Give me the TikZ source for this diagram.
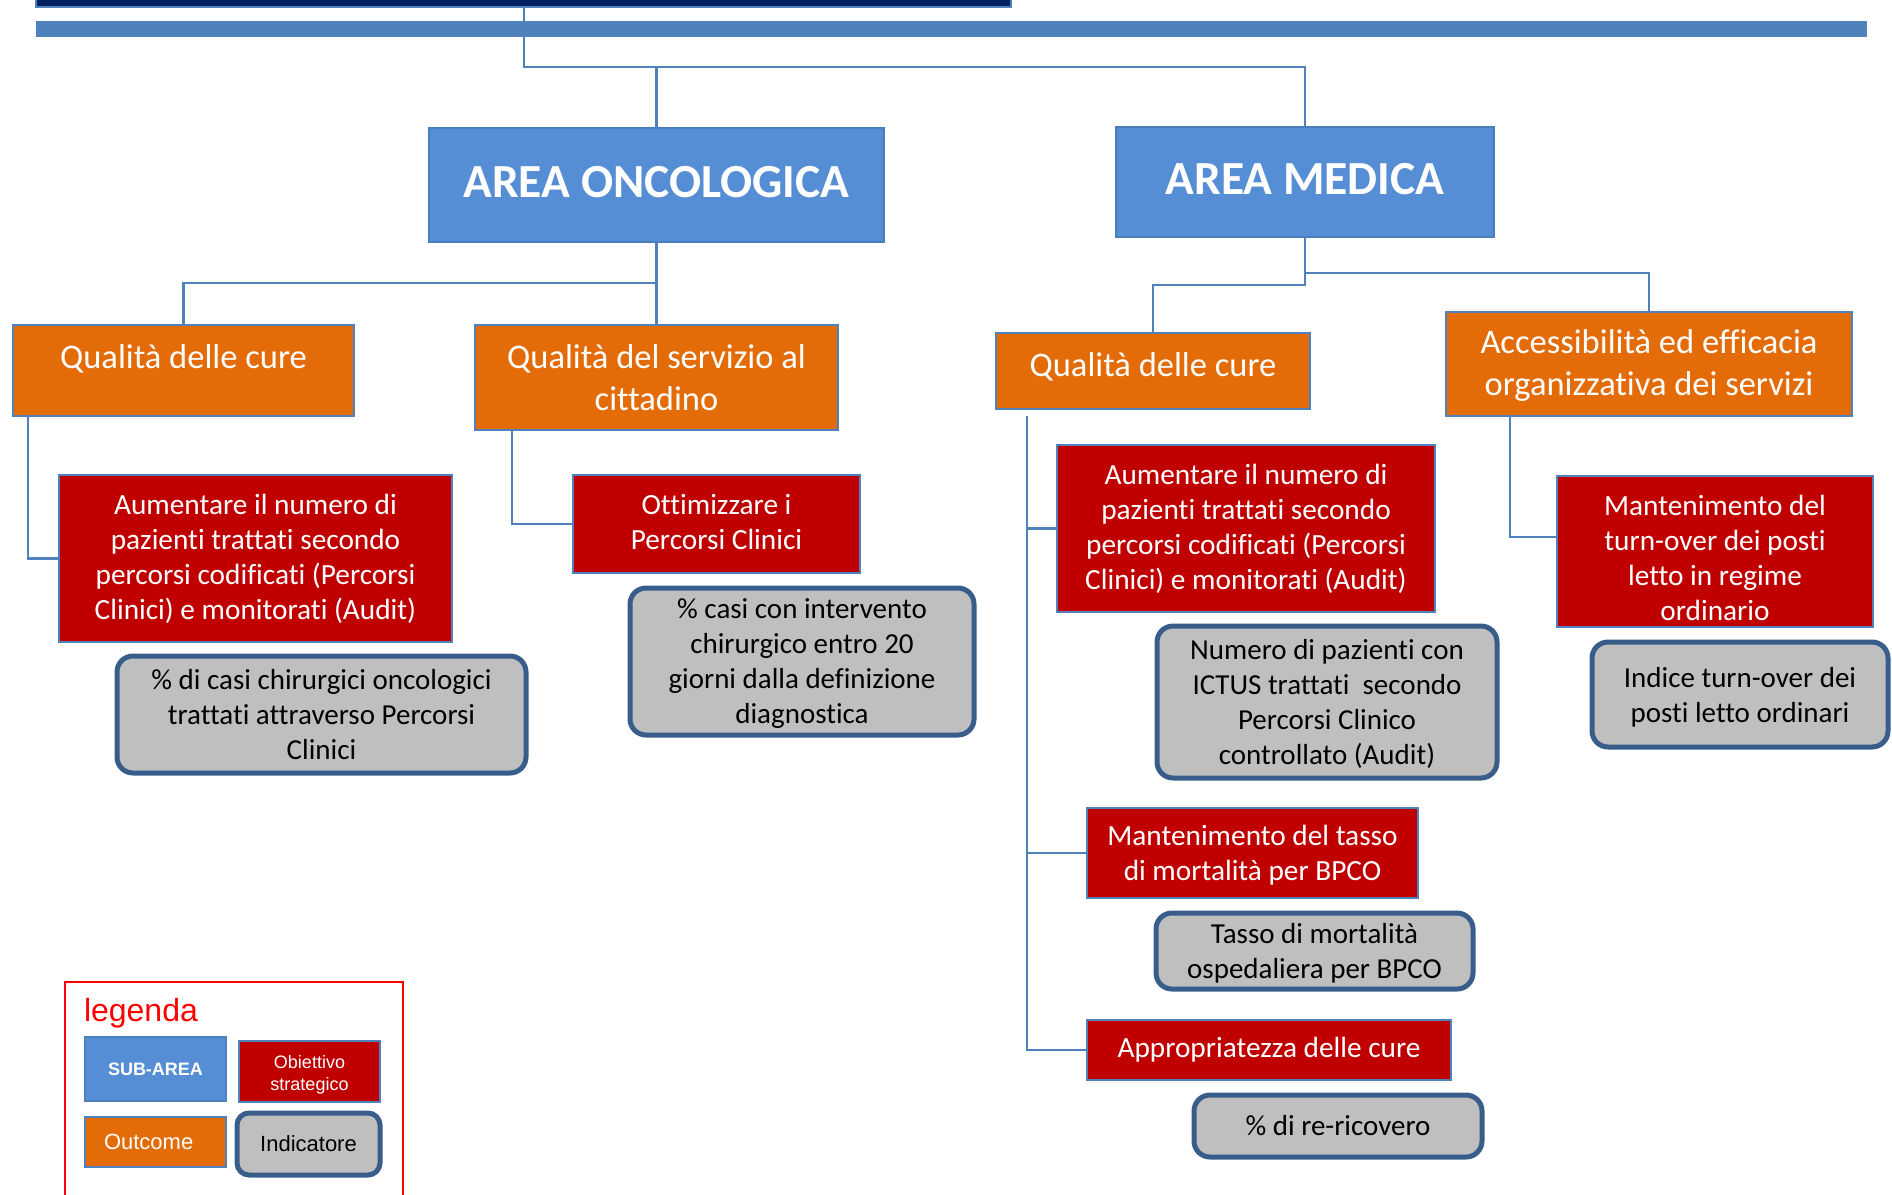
\documentclass[tikz,border=0pt]{standalone}
\usepackage{fontspec}
\setmainfont{Carlito}[Ligatures=CommonOff]
\newfontfamily\legendfont{Liberation Sans}

\definecolor{lineblue}{HTML}{4F81BD}
\definecolor{navy}{HTML}{002060}
\definecolor{areafill}{HTML}{558ED5}
\definecolor{areaedge}{HTML}{4A7EBB}
\definecolor{outfill}{HTML}{E36C09}
\definecolor{objfill}{HTML}{C00000}
\definecolor{indfill}{HTML}{BFBFBF}
\definecolor{indedge}{HTML}{385D8A}

\tikzset{
  conn/.style={draw=lineblue, line width=2.5pt},
  anybox/.style={inner sep=0pt, outer sep=0pt, align=center},
  areabox/.style={anybox, fill=areafill, draw=areaedge, line width=2.5pt, text=white,
    font=\bfseries\fontsize{47.5}{54}\selectfont},
  outbox/.style={anybox, fill=outfill, draw=lineblue, line width=2.5pt, text=white,
    font=\fontsize{34.5}{42}\selectfont},
  objbox/.style={anybox, fill=objfill, draw=lineblue, line width=2.5pt, text=white,
    font=\fontsize{29.3}{35}\selectfont},
  indbox/.style={anybox, fill=indfill, draw=indedge, line width=5pt, rounded corners=16pt,
    text=black, font=\fontsize{29}{35}\selectfont},
  legsmall/.style={anybox, font=\legendfont\fontsize{18}{22}\selectfont},
  leglarge/.style={anybox, font=\legendfont\fontsize{22}{26}\selectfont},
  bare/.style={draw=none, fill=none, minimum width=0pt, minimum height=0pt},
}

% \placebox[dy]{style}{name}{x1}{y1}{x2}{y2}{text}:
% box from top-left (x1,y1) to bottom-right (x2,y2), text centred and moved down by dy
\newcommand\placebox[8][0]{%
  \node[#2, anchor=north west, minimum width={(#6-#4)*1pt},
        minimum height={(#7-#5)*1pt}] (#3) at (#4,#5) {};
  \node[#2, bare, yshift={-(#1)*1pt}] (#3t) at (#3.center) {#8};}

\begin{document}
\begin{tikzpicture}[x=1pt,y=-1pt]
\useasboundingbox (0,0) rectangle (1892,1194);
\clip (0,0) rectangle (1892,1194);

% header bars
\node[anybox, fill=navy, draw=lineblue, line width=2pt, anchor=north west,
      minimum width=975pt, minimum height=27pt] (navy) at (36,-20) {};
\node[anybox, fill=lineblue, anchor=north west, minimum width=1831pt,
      minimum height=16pt] (band) at (36,21) {};

% sub-areas
\placebox[-3]{areabox}{aonc}{429}{128}{884}{242}{AREA ONCOLOGICA}
\placebox[-3]{areabox}{amed}{1116}{127}{1494}{237}{AREA MEDICA}

% outcomes
\placebox[-12]{outbox}{o1}{13}{325}{354}{416}{Qualità delle cure}
\placebox{outbox}{o2}{475}{325}{838}{430}{Qualità del servizio al\\cittadino}
\placebox[-4]{outbox}{mq}{996}{333}{1310}{409}{Qualità delle cure}
\placebox[1]{outbox}{acc}{1446}{312}{1852}{416}{Accessibilità ed efficacia\\organizzativa dei servizi}

% strategic objectives
\placebox{objbox}{r1}{59}{475}{452}{642}{Aumentare il numero di\\pazienti trattati secondo\\percorsi codificati (Percorsi\\Clinici) e monitorati (Audit)}
\placebox[-2]{objbox}{r2}{573}{475}{860}{573}{Ottimizzare i\\Percorsi Clinici}
\placebox{objbox}{r3}{1057}{445}{1435}{612}{Aumentare il numero di\\pazienti trattati secondo\\percorsi codificati (Percorsi\\Clinici) e monitorati (Audit)}
\placebox[6]{objbox}{r6}{1557}{476}{1873}{627}{Mantenimento del\\turn-over dei posti\\letto in regime\\ordinario}
\placebox[2]{objbox}{r4}{1087}{808}{1418}{898}{Mantenimento del tasso\\di mortalità per BPCO}
\placebox{objbox}{r5}{1087}{1020}{1451}{1080}{Appropriatezza delle cure}

% indicators
\placebox{indbox}{g1}{117}{656}{526}{773}{\% di casi chirurgici oncologici\\trattati attraverso Percorsi\\Clinici}
\placebox[2.5]{indbox}{g2}{630}{588}{974}{735}{\% casi con intervento\\chirurgico entro 20\\giorni dalla definizione\\diagnostica}
\placebox[1.5]{indbox}{g3}{1157}{626}{1497}{778}{Numero di pazienti con\\ICTUS trattati\ \ secondo\\Percorsi Clinico\\controllato (Audit)}
\placebox[3]{indbox}{g6}{1592}{642}{1888}{747}{Indice turn-over dei\\posti letto ordinari}
\placebox[2]{indbox}{g4}{1156}{913}{1473}{989}{Tasso di mortalità\\ospedaliera per BPCO}
\placebox{indbox}{g5}{1194}{1095}{1482}{1157}{\% di re-ricovero}

% connector joints
\coordinate (j0) at (524,67);
\coordinate (ja) at (656,283);
\coordinate (jm) at (1305,273);
\coordinate (jm2) at (1305,285);
\coordinate (k1) at (28,558);
\coordinate (k2) at (512,524);
\coordinate (k3) at (1027,416);
\coordinate (k6) at (1510,537);

% connectors
\draw[conn] (navy.south -| j0) -- (j0) -| (aonc.north);
\draw[conn] (j0) -| (amed.north);
\draw[conn] (aonc.south) -- (o2.north);
\draw[conn] (ja) -| (o1.north);
\draw[conn] (amed.south) -- (jm) -| (acc.north);
\draw[conn] (jm) -- (jm2) -| (mq.north);
\draw[conn] (o1.south -| k1) |- (r1.west);
\draw[conn] (o2.south -| k2) |- (r2.west);
\draw[conn] (k3) |- (r5.west);
\draw[conn] (k3 |- r3.west) -- (r3.west);
\draw[conn] (k3 |- r4.west) -- (r4.west);
\draw[conn] (acc.south -| k6) -- (k6) -- (k6 -| r6.west);

% legend
\node[anybox, draw=red, line width=2pt, anchor=north west, minimum width=338pt,
      minimum height=248pt] (leg) at (65,982) {};
\node[anybox, anchor=base west, text=red, font=\legendfont\fontsize{32}{36}\selectfont] (legt) at (84,1021) {legenda};
\placebox{legsmall, fill=areafill, draw=lineblue, line width=2pt, text=white, font=\legendfont\bfseries\fontsize{18}{22}\selectfont}{lsub}{85}{1037}{226}{1101}{SUB-AREA}
\placebox[3]{legsmall, fill=objfill, draw=lineblue, line width=2pt, text=white}{lobj}{239}{1041}{380}{1102}{Obiettivo\\strategico}
\placebox{leglarge, fill=outfill, draw=lineblue, line width=2pt, text=white}{lout}{85}{1117}{226}{1167}{}
\node[leglarge, text=white, anchor=west] (loutt) at (104,1142) {Outcome};
\placebox{leglarge, fill=indfill, draw=indedge, line width=5pt, rounded corners=12pt, text=black}{lind}{237}{1113}{380}{1175}{Indicatore}
\end{tikzpicture}
\end{document}
